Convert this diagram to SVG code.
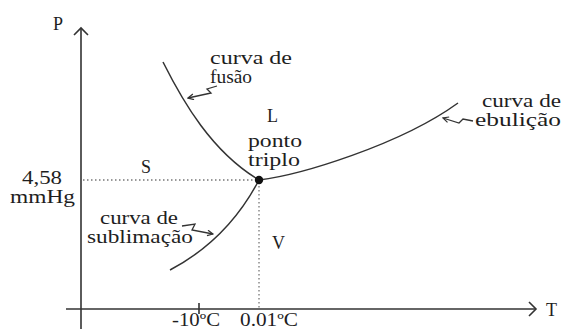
<svg xmlns="http://www.w3.org/2000/svg" width="563" height="329" viewBox="0 0 563 329">
<defs>
<style>
text{font-family:"Liberation Serif","Times New Roman",serif;font-size:18px;fill:#1e1e1e}
.ax{stroke:#333;stroke-width:1.6;fill:none}
.crv{stroke:#333;stroke-width:1.5;fill:none}
.dot{stroke:#777;stroke-width:1.3;fill:none;stroke-dasharray:1.5 2.5}
.sq{stroke:#333;stroke-width:1.3;fill:none;marker-end:url(#sh)}
</style>
<marker id="sh" viewBox="0 0 10 10" refX="9" refY="5" markerWidth="7" markerHeight="7" orient="auto" markerUnits="userSpaceOnUse">
<path d="M1,1 L9,5 L1,9" fill="none" stroke="#333" stroke-width="1.8"/>
</marker>
</defs>
<rect width="563" height="329" fill="#fff"/>
<g id="axes">
<path class="ax" d="M81,329 V28"/>
<path class="ax" d="M74,35 L81,28 L88,35" stroke-width="2.2"/>
<path class="ax" d="M66,309 H536"/>
<path class="ax" d="M529,302 L536,309 L529,316" stroke-width="2.2"/>
<path class="ax" d="M199,303 V314"/>
</g>
<g id="guides">
<path class="dot" d="M83,180 H257"/>
<path class="dot" d="M259,182 V308"/>
</g>
<g id="connectors">
<path id="fusao" class="crv" d="M163,62 C183,102 212,152 259,180"/>
<path id="ebulicao" class="crv" d="M259,180 C300,175 400,145 458,103"/>
<path id="sublimacao" class="crv" d="M259,180 C238,220 208,250 170,270"/>
<path class="sq" d="M217,86 L207,89 L211,93 L188,98"/>
<path class="sq" d="M473,121 L463,119 L459,123 L443,118"/>
<path class="sq" d="M182,226 L195,224 L192,230 L213,234"/>
</g>
<g id="triple-point"><circle cx="259" cy="180" r="4.2" fill="#111"/></g>
<g id="axis-labels">
<text x="53" y="30">P</text>
<text x="546" y="316">T</text>
<text x="22" y="184" textLength="40" lengthAdjust="spacingAndGlyphs">4,58</text>
<text x="10" y="203" textLength="65" lengthAdjust="spacingAndGlyphs">mmHg</text>
<text x="172" y="326" textLength="48" lengthAdjust="spacingAndGlyphs">-10ºC</text>
<text x="240" y="326" textLength="58" lengthAdjust="spacingAndGlyphs">0.01ºC</text>
</g>
<g id="region-S"><text x="141" y="173">S</text></g>
<g id="region-L"><text x="267" y="122">L</text></g>
<g id="region-V"><text x="272" y="249">V</text></g>
<g id="label-triple">
<text x="248" y="147" textLength="54" lengthAdjust="spacingAndGlyphs">ponto</text>
<text x="248" y="166" textLength="52" lengthAdjust="spacingAndGlyphs">triplo</text>
</g>
<g id="label-fusao">
<text x="210" y="64" textLength="82" lengthAdjust="spacingAndGlyphs">curva de</text>
<text x="210" y="83" textLength="42" lengthAdjust="spacingAndGlyphs">fusão</text>
</g>
<g id="label-ebulicao">
<text x="482" y="107" textLength="79" lengthAdjust="spacingAndGlyphs">curva de</text>
<text x="475" y="126" textLength="86" lengthAdjust="spacingAndGlyphs">ebulição</text>
</g>
<g id="label-sublimacao">
<text x="100" y="224" textLength="78" lengthAdjust="spacingAndGlyphs">curva de</text>
<text x="87" y="243" textLength="106" lengthAdjust="spacingAndGlyphs">sublimação</text>
</g>
</svg>
